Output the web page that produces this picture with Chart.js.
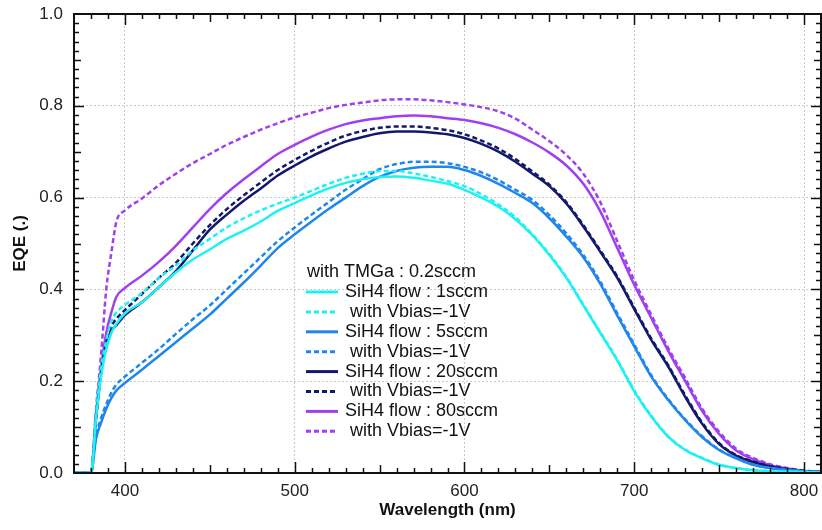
<!DOCTYPE html>
<html>
<head>
<meta charset="utf-8">
<title>EQE vs wavelength</title>
<script src="https://cdn.jsdelivr.net/npm/chart.js@4.4.1/dist/chart.umd.min.js"></script>
<style>
  html, body { margin: 0; padding: 0; background: #fff; }
  #wrap { width: 822px; height: 530px; }
</style>
</head>
<body>
<div id="wrap"><canvas id="eqeChart" width="822" height="530"></canvas></div>
<script>
// wavelength grid (nm): fine steps at the absorption edge, then every 10 nm
const wavelengths = [370, 380, 383, 386, 389, 392, 395, 400,
  410, 420, 430, 440, 450, 460, 470, 480, 490, 500,
  510, 520, 530, 540, 550, 560, 570, 580, 590, 600,
  610, 620, 630, 640, 650, 660, 670, 680, 690, 700,
  710, 720, 730, 740, 750, 760, 770, 780, 790, 800, 810];

const legendTitle = 'with TMGa : 0.2sccm';
const seriesLabels = ['SiH4 flow : 1sccm', ' with Vbias=-1V', 'SiH4 flow : 5sccm', ' with Vbias=-1V',
  'SiH4 flow : 20sccm', ' with Vbias=-1V', 'SiH4 flow : 80sccm', ' with Vbias=-1V'];

const eqe1 = [0, 0, 0.12, 0.21, 0.27, 0.305, 0.325, 0.348,
  0.372, 0.405, 0.437, 0.465, 0.487, 0.51, 0.528, 0.548, 0.571, 0.588,
  0.605, 0.62, 0.632, 0.64, 0.645, 0.646, 0.643, 0.637, 0.63, 0.617,
  0.60, 0.58, 0.553, 0.518, 0.475, 0.425, 0.365, 0.305, 0.245, 0.178,
  0.123, 0.079, 0.05, 0.032, 0.018, 0.011, 0.006, 0.004, 0.003, 0.002, 0.001];
const eqe1Bias = [0, 0, 0.13, 0.23, 0.29, 0.33, 0.35, 0.366,
  0.392, 0.425, 0.452, 0.485, 0.51, 0.535, 0.555, 0.572, 0.587, 0.6,
  0.615, 0.63, 0.643, 0.652, 0.658, 0.658, 0.653, 0.645, 0.636, 0.625,
  0.607, 0.585, 0.557, 0.52, 0.477, 0.427, 0.367, 0.307, 0.247, 0.18,
  0.125, 0.08, 0.051, 0.033, 0.018, 0.011, 0.006, 0.004, 0.003, 0.002, 0.001];
const eqe5 = [0, 0, 0.075, 0.11, 0.14, 0.163, 0.18, 0.196,
  0.225, 0.255, 0.285, 0.315, 0.345, 0.38, 0.415, 0.452, 0.49, 0.52,
  0.548, 0.575, 0.6, 0.625, 0.645, 0.658, 0.665, 0.667, 0.667, 0.66,
  0.647, 0.63, 0.61, 0.588, 0.555, 0.515, 0.47, 0.412, 0.343, 0.276,
  0.21, 0.159, 0.115, 0.078, 0.05, 0.032, 0.018, 0.011, 0.007, 0.004, 0.002];
const eqe5Bias = [0, 0, 0.08, 0.12, 0.15, 0.175, 0.193, 0.21,
  0.24, 0.27, 0.303, 0.335, 0.365, 0.4, 0.435, 0.47, 0.505, 0.535,
  0.563, 0.59, 0.617, 0.64, 0.662, 0.673, 0.678, 0.678, 0.675, 0.667,
  0.655, 0.638, 0.617, 0.595, 0.562, 0.522, 0.475, 0.417, 0.348, 0.28,
  0.213, 0.161, 0.117, 0.08, 0.051, 0.033, 0.018, 0.011, 0.007, 0.004, 0.002];
const eqe20 = [0, 0, 0.12, 0.22, 0.283, 0.31, 0.322, 0.344,
  0.372, 0.405, 0.44, 0.485, 0.53, 0.563, 0.593, 0.62, 0.648, 0.67,
  0.69, 0.707, 0.722, 0.732, 0.74, 0.744, 0.744, 0.742, 0.738, 0.73,
  0.717, 0.70, 0.678, 0.652, 0.625, 0.587, 0.537, 0.482, 0.425, 0.357,
  0.29, 0.232, 0.166, 0.107, 0.063, 0.038, 0.024, 0.014, 0.008, 0.004, 0.002];
const eqe20Bias = [0, 0, 0.12, 0.225, 0.29, 0.32, 0.336, 0.355,
  0.39, 0.425, 0.458, 0.5, 0.54, 0.575, 0.605, 0.633, 0.66, 0.682,
  0.702, 0.72, 0.735, 0.745, 0.752, 0.755, 0.755, 0.752, 0.747, 0.738,
  0.724, 0.707, 0.684, 0.657, 0.628, 0.59, 0.54, 0.485, 0.428, 0.36,
  0.293, 0.235, 0.169, 0.11, 0.065, 0.039, 0.025, 0.015, 0.009, 0.005, 0.002];
const eqe80 = [0, 0, 0.13, 0.23, 0.305, 0.35, 0.384, 0.403,
  0.43, 0.46, 0.495, 0.535, 0.575, 0.61, 0.64, 0.668, 0.695, 0.715,
  0.733, 0.748, 0.76, 0.768, 0.773, 0.777, 0.779, 0.777, 0.773, 0.769,
  0.762, 0.752, 0.738, 0.72, 0.698, 0.67, 0.63, 0.57, 0.49, 0.41,
  0.338, 0.266, 0.2, 0.135, 0.085, 0.049, 0.03, 0.017, 0.01, 0.004, 0.002];
const eqe80Bias = [0, 0, 0.14, 0.26, 0.40, 0.48, 0.548, 0.572,
  0.598, 0.627, 0.652, 0.675, 0.695, 0.715, 0.732, 0.748, 0.762, 0.775,
  0.785, 0.795, 0.802, 0.807, 0.812, 0.814, 0.814, 0.812, 0.808, 0.803,
  0.797, 0.788, 0.772, 0.748, 0.723, 0.693, 0.652, 0.59, 0.505, 0.42,
  0.345, 0.272, 0.207, 0.14, 0.09, 0.053, 0.033, 0.019, 0.011, 0.005, 0.002];

const xTickValues = [400, 500, 600, 700, 800];
const yTickValues = [0, 0.2, 0.4, 0.6, 0.8, 1.0];

const seriesValues = [eqe1, eqe1Bias, eqe5, eqe5Bias, eqe20, eqe20Bias, eqe80, eqe80Bias];
const seriesColors = ['#1ff0f2', '#1ff0f2', '#1f86ec', '#1f86ec', '#12186c', '#12186c', '#a03ff0', '#a03ff0'];

const FONT = '"Liberation Sans", Arial, sans-serif';

// frame plus inward tick marks on all four sides
const frameTicks = {
  id: 'frameTicks',
  afterDatasetsDraw(chart) {
    const { ctx, chartArea: a, scales: { x, y } } = chart;
    ctx.save();
    ctx.strokeStyle = '#111';
    ctx.lineWidth = 1.5;
    ctx.beginPath();
    for (let v = 380; v <= 800; v += 10) {
      const len = v % 100 === 0 ? 11 : (v % 50 === 0 ? 8 : 5);
      const px = Math.round(x.getPixelForValue(v)) + 0.5;
      ctx.moveTo(px, a.bottom); ctx.lineTo(px, a.bottom - len);
      ctx.moveTo(px, a.top); ctx.lineTo(px, a.top + len);
    }
    for (let i = 1; i < 50; i++) {
      const len = i % 10 === 0 ? 10 : (i % 5 === 0 ? 7 : 5);
      const py = Math.round(y.getPixelForValue(i * 0.02)) + 0.5;
      ctx.moveTo(a.left, py); ctx.lineTo(a.left + len, py);
      ctx.moveTo(a.right, py); ctx.lineTo(a.right - len, py);
    }
    ctx.stroke();
    ctx.lineWidth = 2;
    ctx.strokeRect(a.left, a.top, a.right - a.left, a.bottom - a.top);
    ctx.restore();
  }
};

// legend block inside the plot, with a title line
const insideLegend = {
  id: 'insideLegend',
  afterDraw(chart) {
    const ctx = chart.ctx;
    ctx.save();
    ctx.font = '18px ' + FONT;
    ctx.fillStyle = '#111';
    ctx.textBaseline = 'middle';
    ctx.fillText(legendTitle, 307, 272);
    chart.data.datasets.forEach((ds, i) => {
      const yy = 292 + i * 19.9;
      ctx.strokeStyle = ds.borderColor;
      ctx.lineWidth = 3;
      ctx.setLineDash(ds.borderDash || []);
      ctx.beginPath();
      ctx.moveTo(306, yy); ctx.lineTo(338, yy);
      ctx.stroke();
      ctx.setLineDash([]);
      ctx.fillStyle = '#111';
      ctx.fillText(ds.label, 345, yy);
    });
    ctx.restore();
  }
};

new Chart(document.getElementById('eqeChart'), {
  type: 'line',
  data: {
    datasets: seriesValues.map((vals, i) => ({
      label: seriesLabels[i],
      data: wavelengths.map((w, j) => ({ x: w, y: vals[j] })),
      borderColor: seriesColors[i],
      borderWidth: 2.5,
      borderDash: i % 2 === 1 ? [5, 3] : [],
      pointRadius: 0,
      cubicInterpolationMode: 'monotone',
      fill: false
    }))
  },
  options: {
    responsive: false,
    animation: false,
    layout: { padding: { top: 14, right: 1, left: 0, bottom: 0 } },
    plugins: { legend: { display: false }, tooltip: { enabled: false } },
    scales: {
      x: {
        type: 'linear',
        min: 370,
        max: 810,
        afterBuildTicks: s => { s.ticks = xTickValues.map(v => ({ value: v })); },
        afterFit: s => { s.height = 57; s.paddingLeft = 0; s.paddingRight = 0; },
        grid: { color: '#c9c9c9', drawTicks: false, lineWidth: 1 },
        border: { display: false, dash: [2, 2] },
        ticks: { color: '#222', font: { size: 17, family: FONT }, padding: 8, maxRotation: 0 },
        title: { display: true, text: 'Wavelength (nm)', color: '#111',
          font: { size: 17, weight: 'bold', family: FONT }, padding: { top: 4, bottom: 9 } }
      },
      y: {
        min: 0,
        max: 1,
        afterBuildTicks: s => { s.ticks = yTickValues.map(v => ({ value: v })); },
        afterFit: s => { s.width = 74; s.paddingTop = 0; s.paddingBottom = 0; },
        grid: { color: '#c9c9c9', drawTicks: false, lineWidth: 1 },
        border: { display: false, dash: [2, 2] },
        ticks: { color: '#222', font: { size: 17, family: FONT }, padding: 11,
          callback: v => Number(v).toFixed(1) },
        title: { display: true, text: 'EQE (.)', color: '#111',
          font: { size: 17, weight: 'bold', family: FONT }, padding: { top: 10, bottom: 0 } }
      }
    }
  },
  plugins: [frameTicks, insideLegend]
});
</script>
</body>
</html>
